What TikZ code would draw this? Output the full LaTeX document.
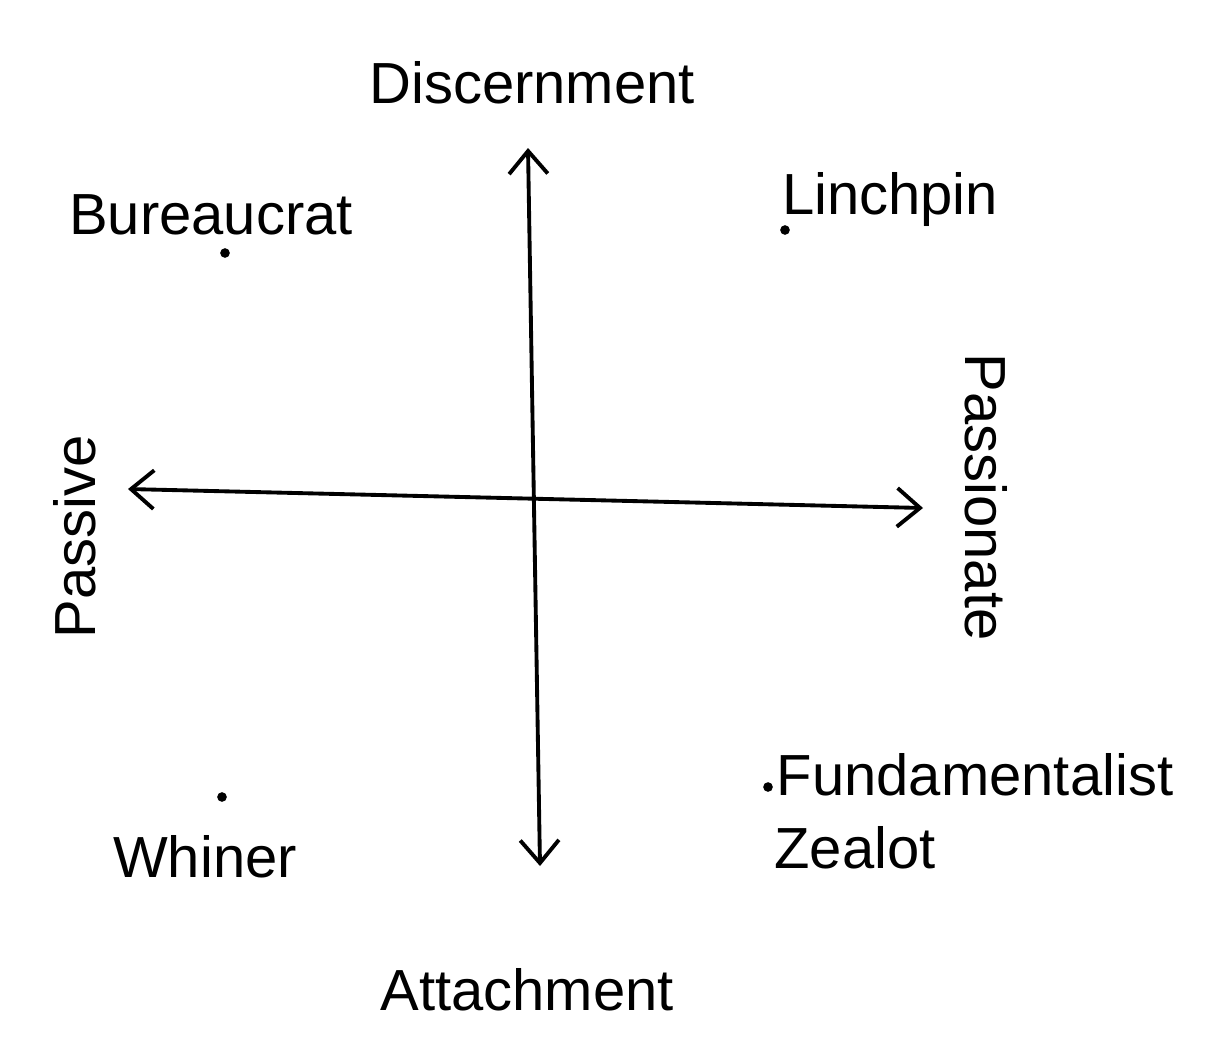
\documentclass[tikz,border=0pt]{standalone}
\usepackage{fontspec}
\setmainfont{Liberation Sans}
\usetikzlibrary{arrows.meta}
\begin{document}
\begin{tikzpicture}[x=0.02cm,y=-0.02cm,
  lbl/.style={font=\fontsize{33}{36}\selectfont, inner sep=0pt, anchor=base},
  axis/.style={line width=2.2pt, line cap=round, {Straight Barb[length=13pt,width=22pt,line width=2.2pt]}-{Straight Barb[length=13pt,width=22pt,line width=2.2pt]}},
  pt/.style={circle, fill=black, inner sep=0pt, minimum size=5.5pt}]
\path[use as bounding box, fill=white] (0,0) rectangle (1212,1048);
\coordinate (top) at (528,148);
\coordinate (bottom) at (540,866);
\coordinate (left) at (128,489);
\coordinate (right) at (923,508);
\draw[axis] (top) -- (bottom);
\draw[axis] (left) -- (right);
\node[lbl] (disc) at (532,103) {Discernment};
\node[lbl] (att) at (527,1010) {Attachment};
\node[lbl, rotate=90] (pas) at (95,537) {Passive};
\node[lbl, rotate=-90] (pnt) at (965,497) {Passionate};
\node[lbl] (bur) at (211,234) {Bureaucrat};
\node[pt] (burdot) at (225,253) {};
\node[lbl] (lin) at (890,214) {Linchpin};
\node[pt] (lindot) at (785,230) {};
\node[lbl] (whi) at (205,877) {Whiner};
\node[pt] (whidot) at (222,797) {};
\node[lbl] (fun) at (975,795) {Fundamentalist};
\node[pt] (fundot) at (768,787) {};
\node[lbl] (zea) at (855,868) {Zealot};
\end{tikzpicture}
\end{document}
